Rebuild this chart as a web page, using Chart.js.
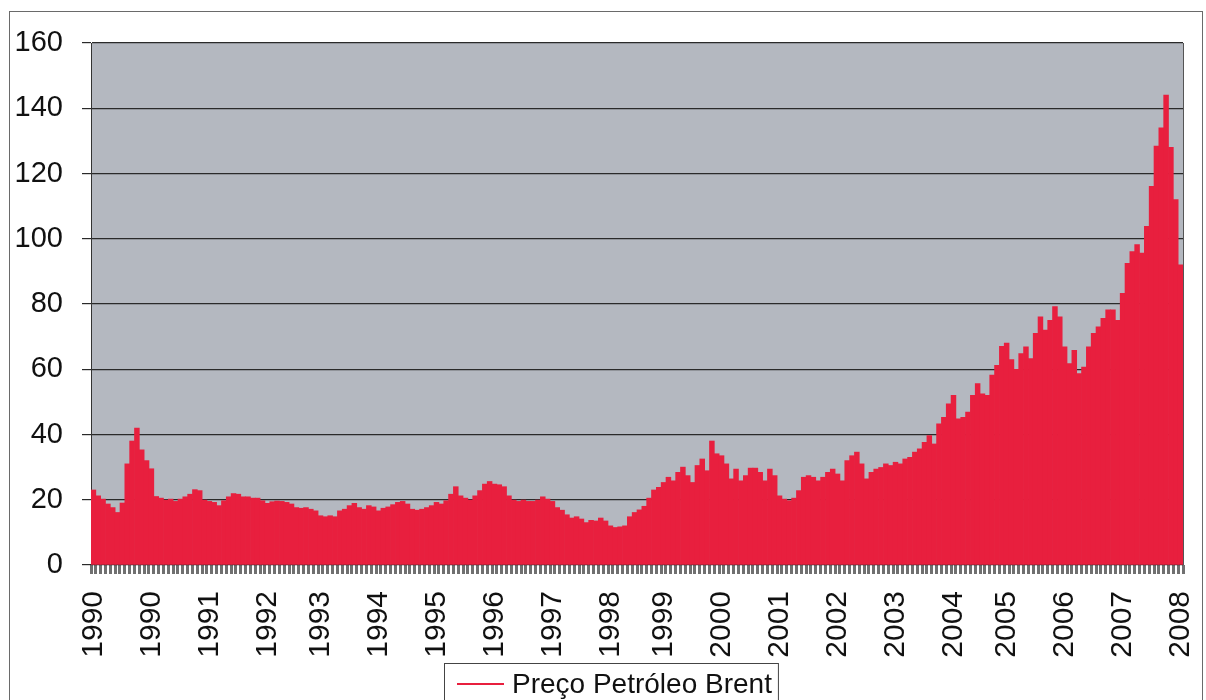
<!DOCTYPE html>
<html>
<head>
<meta charset="utf-8">
<title>Preço Petróleo Brent</title>
<script src="https://cdn.jsdelivr.net/npm/chart.js@4"></script>
<style>
  html, body { margin: 0; padding: 0; background: #fff; overflow: hidden; }
  #wrap { position: relative; width: 1206px; height: 700px; }
</style>
</head>
<body>
<div id="wrap"><canvas id="chart" width="1206" height="700"></canvas></div>
<script>
/* Brent crude, monthly price (USD/bbl), starting Jan 1990 */
var startYear = 1990;
var p1990 = [23.0, 21.2, 20.2, 18.7, 17.6, 16.1, 19.0, 31.0, 38.0, 42.0, 35.3, 32.0];
var p1991 = [29.5, 21.0, 20.5, 19.9, 20.2, 19.5, 20.2, 20.9, 21.7, 23.1, 22.8, 19.9];
var p1992 = [19.5, 19.2, 18.2, 19.7, 20.9, 21.9, 21.7, 20.9, 20.9, 20.5, 20.5, 19.7];
var p1993 = [18.9, 19.4, 19.6, 19.5, 19.2, 18.7, 17.6, 17.4, 17.6, 17.1, 16.6, 15.1];
var p1994 = [14.8, 15.1, 14.8, 16.6, 17.1, 18.2, 18.9, 17.6, 17.1, 18.2, 17.8, 16.6];
var p1995 = [17.4, 17.8, 18.5, 19.2, 19.5, 18.7, 17.1, 16.8, 17.1, 17.6, 18.2, 19.2];
var p1996 = [18.7, 19.7, 21.7, 24.0, 21.2, 20.5, 19.9, 21.2, 22.8, 24.8, 25.6, 24.8];
var p1997 = [24.6, 24.0, 21.2, 19.9, 19.5, 19.9, 19.5, 19.5, 19.9, 20.9, 20.2, 19.5];
var p1998 = [17.6, 16.8, 15.4, 14.4, 14.8, 14.1, 13.0, 13.7, 13.5, 14.4, 13.5, 12.0];
var p1999 = [11.5, 11.7, 12.0, 14.8, 16.1, 16.9, 18.0, 20.5, 23.0, 23.8, 25.3, 26.9];
var p2000 = [25.8, 28.4, 30.0, 27.4, 25.3, 30.5, 32.5, 28.9, 38.0, 34.1, 33.5, 31.0];
var p2001 = [26.4, 29.4, 25.8, 27.4, 29.7, 29.7, 28.4, 25.8, 29.4, 27.4, 21.2, 20.2];
var p2002 = [19.7, 20.5, 22.8, 26.9, 27.4, 26.9, 25.8, 26.9, 28.4, 29.4, 27.9, 25.8];
var p2003 = [32.0, 33.5, 34.6, 31.0, 26.4, 28.4, 29.4, 29.9, 31.0, 30.5, 31.5, 31.0];
var p2004 = [32.5, 33.0, 34.6, 35.6, 37.6, 39.7, 37.1, 43.3, 45.3, 49.4, 52.0, 44.8];
var p2005 = [45.3, 46.9, 52.0, 55.6, 52.5, 52.0, 58.2, 61.2, 67.0, 68.0, 63.0, 60.0];
var p2006 = [64.8, 66.9, 63.3, 71.0, 76.1, 72.0, 75.0, 79.2, 76.1, 66.9, 61.7, 65.8];
var p2007 = [58.7, 60.7, 66.9, 71.0, 73.0, 75.6, 78.2, 78.2, 75.0, 83.3, 92.5, 96.1];
var p2008 = [98.2, 95.6, 103.8, 116.1, 128.4, 134.0, 144.0, 128.0, 112.0, 92.0];

// year captions under the axis (evenly spread along the time axis)
var yearLabels = ['1990', '1990', '1991', '1992', '1993', '1994', '1995', '1996', '1997',
  '1998', '1999', '2000', '2001', '2002', '2003', '2004', '2005', '2006', '2007', '2008'];
var yTicks = { min: 0, max: 160, step: 20 };
var seriesName = 'Preço Petróleo Brent';

var areaRed = '#e81f3e';
var plotGrey = '#b4b8c0';
var fontFamily = '"Liberation Sans", Arial, sans-serif';

var prices = [].concat(p1990, p1991, p1992, p1993, p1994, p1995, p1996, p1997, p1998,
  p1999, p2000, p2001, p2002, p2003, p2004, p2005, p2006, p2007, p2008);

var months = [];
for (var i = 0; i < prices.length; i++) {
  var yy = startYear + Math.floor(i / 12);
  months.push(yy + '-' + String((i % 12) + 1).padStart(2, '0'));
}

// which category index carries which year caption
var labelAt = {};
for (var k = 0; k < yearLabels.length; k++) {
  var idx = Math.round(k * (prices.length - 1) / (yearLabels.length - 1));
  labelAt[idx] = yearLabels[k];
}

/* plot background, outer frame and the boxed legend */
var framePlugin = {
  id: 'frame',
  beforeDraw: function(chart) {
    var ctx = chart.ctx, a = chart.chartArea;
    ctx.save();
    ctx.fillStyle = '#fff';
    ctx.fillRect(0, 0, chart.width, chart.height);
    ctx.fillStyle = plotGrey;
    ctx.fillRect(a.left, a.top, a.right - a.left, a.bottom - a.top);
    ctx.restore();
  },
  beforeDatasetsDraw: function(chart) {
    var ctx = chart.ctx, a = chart.chartArea;
    ctx.save();
    ctx.strokeStyle = '#555';
    ctx.lineWidth = 1;
    ctx.beginPath();
    ctx.moveTo(Math.round(a.right) + 0.5, a.top);
    ctx.lineTo(Math.round(a.right) + 0.5, a.bottom);
    ctx.stroke();
    ctx.restore();
  },
  afterDraw: function(chart) {
    var ctx = chart.ctx;
    ctx.save();
    // frame round the whole chart
    ctx.strokeStyle = '#6a6a6a';
    ctx.lineWidth = 1;
    ctx.strokeRect(9.5, 11.5, 1193, 720);

    // legend
    ctx.font = '28px ' + fontFamily;
    var tw = ctx.measureText(seriesName).width;
    var boxW = 13 + 47 + 8 + tw + 6;
    var boxL = Math.round(611 - boxW / 2);
    var boxT = 663, midY = 684;
    ctx.fillStyle = '#fff';
    ctx.fillRect(boxL, boxT, boxW, 42);
    ctx.strokeStyle = '#444';
    ctx.strokeRect(boxL + 0.5, boxT + 0.5, boxW, 42);
    ctx.strokeStyle = areaRed;
    ctx.lineWidth = 2;
    ctx.beginPath();
    ctx.moveTo(boxL + 13, midY);
    ctx.lineTo(boxL + 60, midY);
    ctx.stroke();
    ctx.fillStyle = '#111';
    ctx.textBaseline = 'middle';
    ctx.textAlign = 'left';
    ctx.fillText(seriesName, boxL + 68, midY + 1);
    ctx.restore();
  }
};

var chart = new Chart(document.getElementById('chart'), {
  type: 'bar',
  data: {
    labels: months,
    datasets: [{
      label: seriesName,
      data: prices,
      backgroundColor: areaRed,
      borderWidth: 0,
      barPercentage: 1,
      categoryPercentage: 1
    }]
  },
  options: {
    responsive: false,
    animation: false,
    layout: { padding: { top: 43, right: 23, bottom: 37, left: 0 } },
    plugins: {
      legend: { display: false },
      tooltip: { enabled: false }
    },
    scales: {
      x: {
        grid: {
          display: true,
          drawOnChartArea: false,
          drawTicks: true,
          tickLength: 9,
          tickColor: '#707070',
          tickWidth: 3
        },
        border: { display: false },
        ticks: {
          autoSkip: false,
          minRotation: 90,
          maxRotation: 90,
          padding: 17,
          color: '#111',
          font: { family: fontFamily, size: 30 },
          callback: function(val, index) { return labelAt[index] || ''; }
        },
        afterFit: function(scale) {
          scale.height = 98;
          scale.paddingLeft = 0;
          scale.paddingRight = 0;
        }
      },
      y: {
        min: yTicks.min,
        max: yTicks.max,
        ticks: {
          stepSize: yTicks.step,
          padding: 19,
          color: '#111',
          font: { family: fontFamily, size: 29 }
        },
        grid: {
          color: '#2a2a2a',
          lineWidth: 1.2,
          tickLength: 9,
          tickColor: '#2a2a2a'
        },
        border: { display: true, color: '#333', width: 1 },
        afterFit: function(scale) {
          scale.width = 91;
          scale.paddingTop = 0;
          scale.paddingBottom = 0;
        }
      }
    }
  },
  plugins: [framePlugin]
});
</script>
</body>
</html>
